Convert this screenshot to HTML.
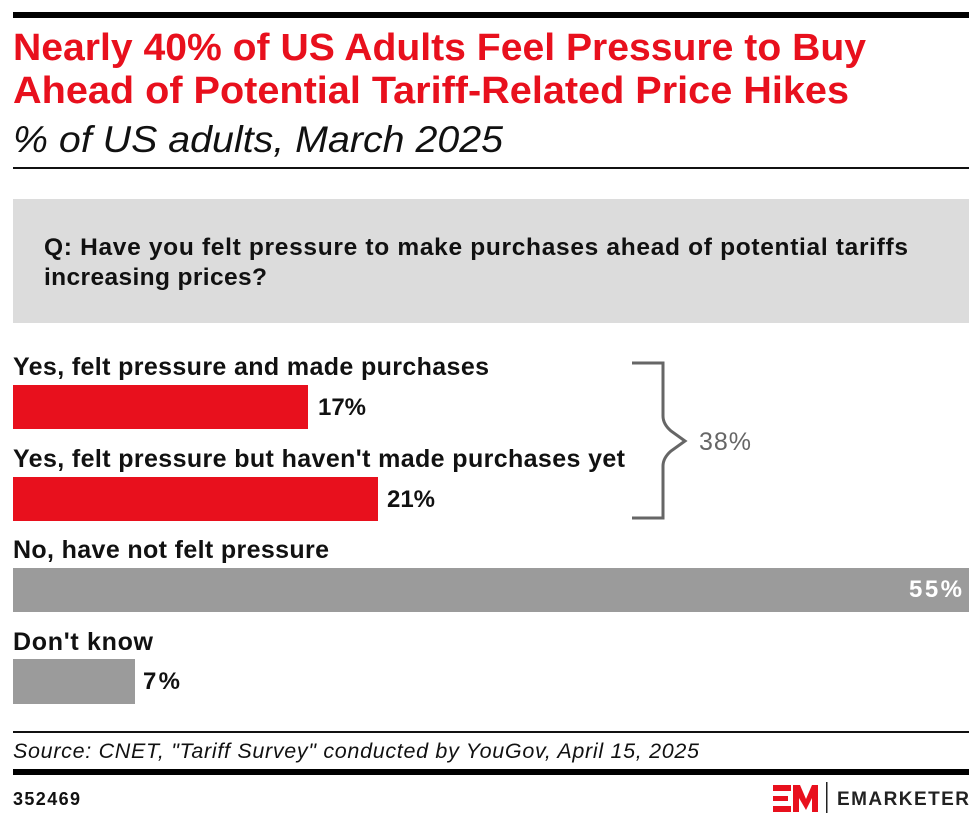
<!DOCTYPE html>
<html>
<head>
<meta charset="utf-8">
<style>
  html, body { margin: 0; padding: 0; background: #ffffff; }
  body { width: 980px; height: 826px; overflow: hidden; }
  svg { display: block; }
  text { font-family: "Liberation Sans", "DejaVu Sans", sans-serif; }
  .b { font-weight: bold; }
</style>
</head>
<body>
<svg width="980" height="826" viewBox="0 0 980 826" xmlns="http://www.w3.org/2000/svg">
  <!-- top rule -->
  <rect x="13" y="12" width="956" height="6" fill="#000"/>

  <!-- title -->
  <text x="13" y="60" class="b" font-size="38" fill="#e8101d" textLength="853" lengthAdjust="spacingAndGlyphs">Nearly 40% of US Adults Feel Pressure to Buy</text>
  <text x="13" y="103" class="b" font-size="38" fill="#e8101d" textLength="836" lengthAdjust="spacingAndGlyphs">Ahead of Potential Tariff-Related Price Hikes</text>
  <text x="13" y="152" font-size="37" font-style="italic" fill="#111" textLength="490" lengthAdjust="spacingAndGlyphs">% of US adults, March 2025</text>

  <rect x="13" y="167" width="956" height="2" fill="#111"/>

  <!-- question box -->
  <rect x="13" y="199" width="956" height="124" fill="#dcdcdc"/>
  <text x="44" y="255" class="b" font-size="24.5" fill="#111" textLength="864" lengthAdjust="spacing">Q: Have you felt pressure to make purchases ahead of potential tariffs</text>
  <text x="44" y="285" class="b" font-size="24.5" fill="#111" textLength="223" lengthAdjust="spacing">increasing prices?</text>

  <!-- row 1 -->
  <text x="13" y="375" class="b" font-size="25" fill="#111" textLength="476" lengthAdjust="spacing">Yes, felt pressure and made purchases</text>
  <rect x="13" y="385" width="295" height="44" fill="#e8101d"/>
  <text x="318" y="415" class="b" font-size="24" fill="#111" textLength="48" lengthAdjust="spacing">17%</text>

  <!-- row 2 -->
  <text x="13" y="467" class="b" font-size="25" fill="#111" textLength="612" lengthAdjust="spacing">Yes, felt pressure but haven't made purchases yet</text>
  <rect x="13" y="477" width="365" height="44" fill="#e8101d"/>
  <text x="387" y="507" class="b" font-size="24" fill="#111" textLength="48" lengthAdjust="spacing">21%</text>

  <!-- row 3 -->
  <text x="13" y="558" class="b" font-size="25" fill="#111" textLength="316" lengthAdjust="spacing">No, have not felt pressure</text>
  <rect x="13" y="568" width="956" height="44" fill="#9b9b9b"/>
  <text x="909" y="597" font-size="24" fill="#fff" textLength="53" lengthAdjust="spacing" style="font-weight:600">55%</text>

  <!-- row 4 -->
  <text x="13" y="650" class="b" font-size="25" fill="#111" textLength="140" lengthAdjust="spacing">Don't know</text>
  <rect x="13" y="659" width="122" height="45" fill="#9b9b9b"/>
  <text x="143" y="689" class="b" font-size="24" fill="#111" textLength="37" lengthAdjust="spacing">7%</text>

  <!-- bracket -->
  <path d="M632,363 H663 V416 Q663,424 671,431 L685,441 L671,451 Q663,458 663,466 V518 H632" fill="none" stroke="#666" stroke-width="3"/>
  <text x="699" y="450" font-size="25" fill="#666" textLength="52" lengthAdjust="spacing">38%</text>

  <!-- footer -->
  <rect x="13" y="731" width="956" height="2" fill="#111"/>
  <text x="13" y="758" font-size="21.5" font-style="italic" fill="#111" textLength="686" lengthAdjust="spacing">Source: CNET, "Tariff Survey" conducted by YouGov, April 15, 2025</text>
  <rect x="13" y="769" width="956" height="6" fill="#000"/>
  <text x="13" y="805" class="b" font-size="18" fill="#111" textLength="67" lengthAdjust="spacing">352469</text>

  <!-- logo -->
  <rect x="773" y="785" width="18" height="6" fill="#e8101d"/>
  <rect x="773" y="796" width="15" height="5" fill="#e8101d"/>
  <rect x="773" y="806" width="18" height="6" fill="#e8101d"/>
  <polygon points="793,785 800,785 806,799 812,785 818,785 818,812 812,812 812,798 806,810 799,798 799,812 793,812" fill="#e8101d"/>
  <rect x="826" y="782" width="1.5" height="31" fill="#222"/>
  <text x="837" y="805" class="b" font-size="19" fill="#222" textLength="132" lengthAdjust="spacing">EMARKETER</text>
</svg>
</body>
</html>
